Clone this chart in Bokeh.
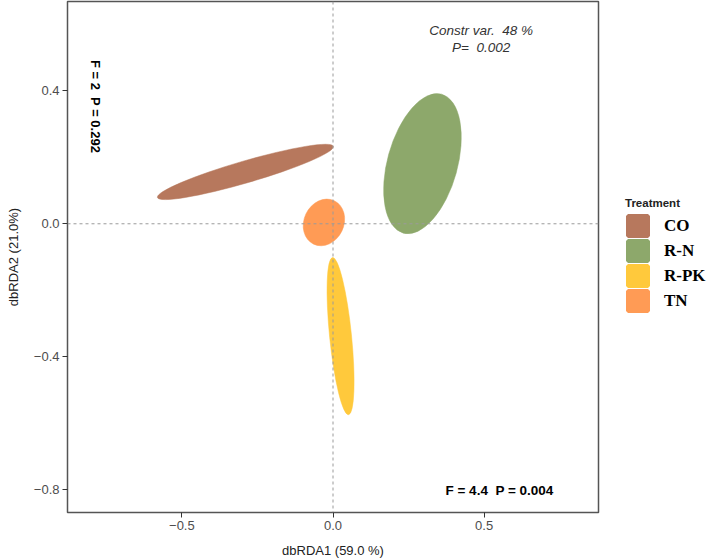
import math
from bokeh.plotting import figure
from bokeh.layouts import row
from bokeh.models import (Span, Label, Legend, LegendItem, FixedTicker,
                          CustomJSTickFormatter, ColumnDataSource)
from bokeh.embed import file_html
from bokeh.resources import INLINE

# ---- data ----
treatments = ["CO", "R-N", "R-PK", "TN"]
colors = ["#B7785D", "#8DA86B", "#FFC93C", "#FF9B55"]
center_x = [-0.290, 0.296, 0.025, -0.030]
center_y = [0.156, 0.181, -0.338, 0.004]
ell_width = [0.606, 0.477, 0.523, 0.159]
ell_height = [0.066, 0.211, 0.066, 0.120]
ell_angle = [0.283, 1.302, 1.672, 1.13]

x_ticks = [-0.5, 0.0, 0.5]
y_ticks = [-0.8, -0.4, 0.0, 0.4]

NB = "\u00a0"
x_label = "dbRDA1 (59.0 %)"
y_label = "dbRDA2 (21.0%)"
legend_title = "Treatment"
constr_text = "Constr var. " + NB + "48 %"
constr_p_text = "P= " + NB + "0.002"
axis2_test = "F = 2 " + NB + "P = 0.292"
axis1_test = "F = 4.4 " + NB + "P = 0.004"

# ---------------- main plot ----------------
p = figure(width=600, height=560, x_range=(-0.8785, 0.8785), y_range=(-0.869, 0.669),
           output_backend="svg", toolbar_location=None,
           min_border_left=67, min_border_right=2, min_border_top=1, min_border_bottom=48)
p.background_fill_color = "white"
p.border_fill_color = "white"
p.xgrid.visible = False
p.ygrid.visible = False
p.outline_line_color = "#555555"
p.outline_line_width = 1.5

src = ColumnDataSource(dict(x=center_x, y=center_y, w=ell_width, h=ell_height,
                            a=ell_angle, c=colors))
p.ellipse(x="x", y="y", width="w", height="h", angle="a", source=src,
          fill_color="c", line_color="c", line_width=0.5)

for dim in ("height", "width"):
    p.add_layout(Span(location=0, dimension=dim, line_color="#9A9A9A",
                      line_dash="3 3", line_width=1))

fmt = CustomJSTickFormatter(code="return (tick < 0 ? '\u2212' : '') + Math.abs(tick).toFixed(1);")
for ax, ticks, lab in ((p.xaxis[0], x_ticks, x_label), (p.yaxis[0], y_ticks, y_label)):
    ax.ticker = FixedTicker(ticks=ticks)
    ax.formatter = fmt
    ax.minor_tick_line_color = None
    ax.axis_line_color = None
    ax.major_tick_line_color = "#333333"
    ax.major_tick_in = 0
    ax.major_tick_out = 5
    ax.major_label_standoff = 3
    ax.major_label_text_font = "Liberation Sans"
    ax.major_label_text_font_size = "13px"
    ax.major_label_text_color = "#4D4D4D"
    ax.axis_label = lab
    ax.axis_label_text_font = "Liberation Sans"
    ax.axis_label_text_font_size = "13px"
    ax.axis_label_text_font_style = "normal"
    ax.axis_label_text_color = "#222222"
    ax.axis_label_standoff = 10

p.add_layout(Label(x=0.490, y=0.582, text=constr_text, text_align="center",
                   text_baseline="middle", text_font="Liberation Sans",
                   text_font_style="italic", text_font_size="13.5px", text_color="#333333"))
p.add_layout(Label(x=0.490, y=0.531, text=constr_p_text, text_align="center",
                   text_baseline="middle", text_font="Liberation Sans",
                   text_font_style="italic", text_font_size="13.5px", text_color="#333333"))
p.add_layout(Label(x=-0.786, y=0.353, text=axis2_test, angle=-math.pi / 2,
                   text_align="center", text_baseline="middle",
                   text_font="Liberation Sans", text_font_style="bold",
                   text_font_size="13px", text_color="black"))
p.add_layout(Label(x=0.551, y=-0.803, text=axis1_test, text_align="center",
                   text_baseline="middle", text_font="Liberation Sans",
                   text_font_style="bold", text_font_size="13.5px", text_color="black"))

# ---------------- legend panel ----------------
p2 = figure(width=108, height=560, output_backend="svg", toolbar_location=None,
            x_axis_type=None, y_axis_type=None,
            min_border_left=0, min_border_right=0, min_border_top=0, min_border_bottom=0)
p2.outline_line_color = None
p2.xgrid.visible = False
p2.ygrid.visible = False
p2.background_fill_color = "white"
p2.border_fill_color = "white"

items = []
for i, (t, c) in enumerate(zip(treatments, colors)):
    r = p2.rect(x=[center_x[i]], y=[center_y[i]], width=[ell_width[i]], height=[ell_height[i]],
                fill_color=c, line_color=c, line_width=4, visible=False)
    items.append(LegendItem(label=t, renderers=[r]))
legend = Legend(items=items, location=(25, 199), title=legend_title,
                title_text_font="Liberation Sans", title_text_font_style="bold",
                title_text_font_size="11.5px", title_standoff=4, title_text_color="#222222",
                label_text_font="Liberation Serif", label_text_font_style="bold",
                label_text_font_size="17px", label_text_color="black",
                label_height=25, label_standoff=14,
                glyph_width=25, glyph_height=25, spacing=0, padding=0, margin=0,
                border_line_color=None, background_fill_alpha=0,
                inactive_fill_alpha=0)
p2.add_layout(legend)

layout = row(p, p2)
open("out.html", "w").write(file_html(layout, INLINE))
